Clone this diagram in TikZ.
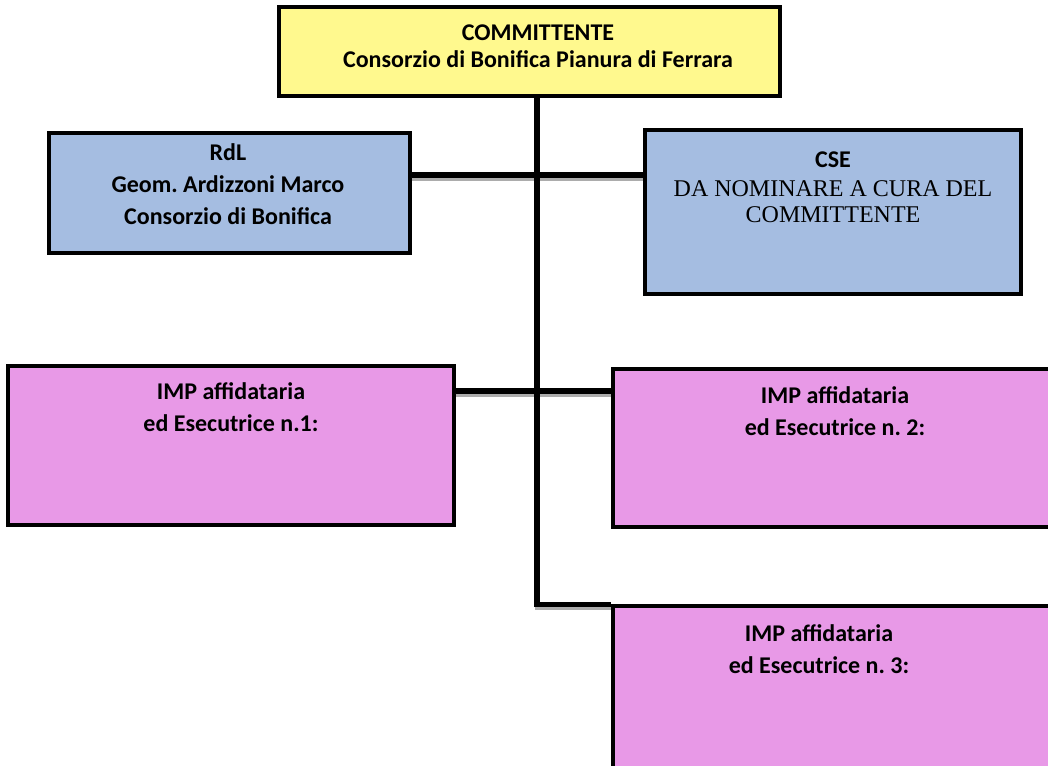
\documentclass[tikz,border=0pt]{standalone}
\usepackage{fontspec}
\setmainfont{Carlito}
\newfontfamily\timesfont{Liberation Serif}
\definecolor{giallo}{HTML}{FFF98E}
\definecolor{azzurro}{HTML}{A5BDE1}
\definecolor{rosa}{HTML}{E899E7}
\frenchspacing
\begin{document}
\begin{tikzpicture}[x=0.75pt,y=-0.75pt,
    box/.style={draw,line width=2.6pt,inner sep=0pt},
    lab/.style={anchor=north,align=center,inner sep=0pt,font=\fontsize{18}{24}\selectfont\bfseries},
    link/.style={line width=4pt,preaction={draw=gray!65,line width=3.2pt,transform canvas={yshift=-3pt}}}]
    \useasboundingbox (0,0) rectangle (1048,765);

    \node[box,fill=giallo,minimum width=375.75pt,minimum height=66.75pt] (comm) at (529.5,51.5) {};
    \node[box,fill=azzurro,minimum width=270.75pt,minimum height=90pt] (rdl) at (229.5,193) {};
    \node[box,fill=azzurro,minimum width=282pt,minimum height=123pt] (cse) at (833,212) {};
    \node[box,fill=rosa,minimum width=334.5pt,minimum height=119.25pt] (imp1) at (231,445.5) {};
    \node[box,fill=rosa,minimum width=335.25pt,minimum height=118.5pt] (imp2) at (836.5,448) {};
    \node[box,fill=rosa,minimum width=335.25pt,minimum height=126.75pt] (imp3) at (836.5,690.5) {};

    \node[lab,font=\fontsize{18}{20.5}\selectfont\bfseries] (commtxt) at (538,24) {COMMITTENTE\\Consorzio di Bonifica Pianura di Ferrara};
    \node[lab] (rdltxt) at (228,143) {RdL\\Geom. Ardizzoni Marco\\Consorzio di Bonifica};
    \node[lab] (csetit) at (833,151) {CSE};
    \node[lab,font=\timesfont\fontsize{18}{20}\selectfont] (csetxt) at (833,180) {DA NOMINARE A CURA DEL\\COMMITTENTE};
    \node[lab] (imp1txt) at (231,382) {IMP affidataria\\ed Esecutrice n.1:};
    \node[lab] (imp2txt) at (835,386) {IMP affidataria\\ed Esecutrice n. 2:};
    \node[lab] (imp3txt) at (819,624) {IMP affidataria\\ed Esecutrice n. 3:};

    \coordinate (bar1) at (0,175);
    \coordinate (bar2) at (0,391);
    \coordinate (bend) at (537,604);
    \draw[link] (rdl.east |- bar1) -- (cse.west |- bar1);
    \draw[link] (imp1.east |- bar2) -- (imp2.west |- bar2);
    \draw[link] (comm.south -| bend) |- (imp3.north west);
\end{tikzpicture}
\end{document}
